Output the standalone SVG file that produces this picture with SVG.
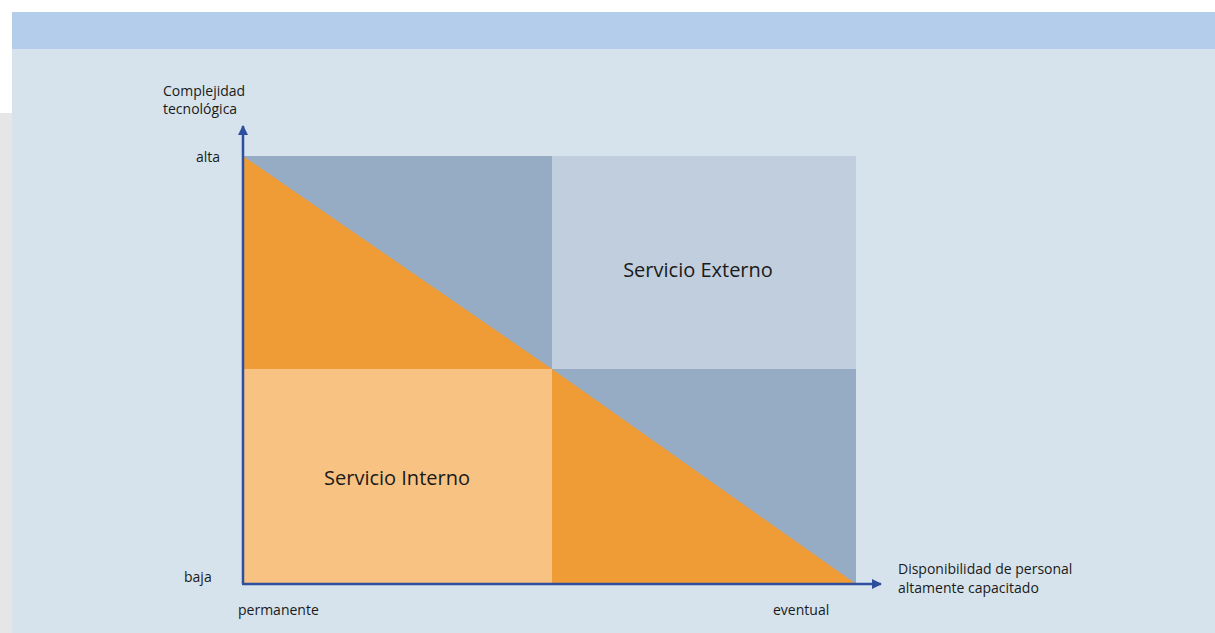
<svg xmlns="http://www.w3.org/2000/svg" width="1215" height="633" viewBox="0 0 1215 633">
<style>
text{font-family:"Open Sans","Noto Sans","Liberation Sans",sans-serif;fill:#1a1a1a}
.s{font-size:14px}
.l{font-size:20px}
.ax{stroke:#2e4e9e;stroke-width:2.5;fill:none}
.dk{fill:#f09c36}
.lo{fill:#f8c382}
.bg{fill:#95acc4}
.lb{fill:#c1cedd}
</style>
<defs>
<marker id="arr" viewBox="0 0 10 10" refX="9" refY="5" markerWidth="4" markerHeight="4" orient="auto" markerUnits="strokeWidth">
<path d="M0,0 L10,5 L0,10 z" fill="#2e4e9e"/>
</marker>
</defs>
<rect width="1215" height="633" fill="#ffffff"/>
<rect x="0" y="113" width="12" height="520" fill="#e6e6e6"/>
<rect x="12" y="12" width="1203" height="621" fill="#d6e3ec"/>
<rect x="12" y="12" width="1203" height="37" fill="#b4cdea"/>
<g id="quadrant-top-left">
<rect class="bg" x="243" y="156" width="309" height="213"/>
<polygon class="dk" points="243,156 552,369 243,369"/>
</g>
<g id="quadrant-top-right">
<rect class="lb" x="552" y="156" width="304" height="213"/>
<text class="l" x="698" y="277" text-anchor="middle">Servicio Externo</text>
</g>
<g id="quadrant-bottom-left">
<rect class="lo" x="243" y="369" width="309" height="215"/>
<text class="l" x="397" y="485" text-anchor="middle">Servicio Interno</text>
</g>
<g id="quadrant-bottom-right">
<rect class="bg" x="552" y="369" width="304" height="215"/>
<polygon class="dk" points="552,369 856,584 552,584"/>
</g>
<g id="connectors">
<line class="ax" x1="243" y1="584" x2="243" y2="126" marker-end="url(#arr)"/>
<line class="ax" x1="242" y1="584" x2="881" y2="584" marker-end="url(#arr)"/>
</g>
<g id="y-axis-labels">
<text class="s" x="163" y="96">Complejidad</text>
<text class="s" x="163" y="114">tecnológica</text>
<text class="s" x="196" y="162">alta</text>
<text class="s" x="184" y="582">baja</text>
</g>
<g id="x-axis-labels">
<text class="s" x="238" y="615">permanente</text>
<text class="s" x="773" y="615">eventual</text>
<text class="s" x="898" y="574">Disponibilidad de personal</text>
<text class="s" x="898" y="593">altamente capacitado</text>
</g>
</svg>
